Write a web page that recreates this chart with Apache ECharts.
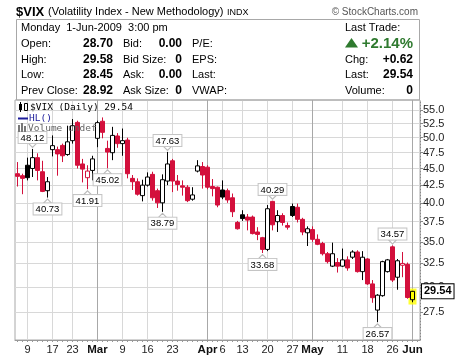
<!DOCTYPE html>
<html><head><meta charset="utf-8">
<script src="https://cdn.jsdelivr.net/npm/echarts@6/dist/echarts.min.js"></script>
<style>html,body{margin:0;padding:0;background:#fff}#c{width:460px;height:357px}</style>
</head><body><div id="c"></div>
<script>
// ---- data ----
const dates = ['2009-02-05','2009-02-06','2009-02-09','2009-02-10','2009-02-11','2009-02-12','2009-02-13','2009-02-17','2009-02-18','2009-02-19','2009-02-20','2009-02-23','2009-02-24','2009-02-25','2009-02-26','2009-02-27',
'2009-03-02','2009-03-03','2009-03-04','2009-03-05','2009-03-06','2009-03-09','2009-03-10','2009-03-11','2009-03-12','2009-03-13','2009-03-16','2009-03-17','2009-03-18','2009-03-19','2009-03-20','2009-03-23','2009-03-24','2009-03-25','2009-03-26','2009-03-27','2009-03-30','2009-03-31',
'2009-04-01','2009-04-02','2009-04-03','2009-04-06','2009-04-07','2009-04-08','2009-04-09','2009-04-13','2009-04-14','2009-04-15','2009-04-16','2009-04-17','2009-04-20','2009-04-21','2009-04-22','2009-04-23','2009-04-24','2009-04-27','2009-04-28','2009-04-29','2009-04-30',
'2009-05-01','2009-05-04','2009-05-05','2009-05-06','2009-05-07','2009-05-08','2009-05-11','2009-05-12','2009-05-13','2009-05-14','2009-05-15','2009-05-18','2009-05-19','2009-05-20','2009-05-21','2009-05-22','2009-05-26','2009-05-27','2009-05-28','2009-05-29',
'2009-06-01'];
const padCategories = ['2009-06-02'];
const opens  = [44.2,43.9,45.5,45.0,46.7,44.5,41.7,48.0,48.0,48.7,47.2,49.5,52.7,45.7,43.6,44.7,
49.9,52.9,48.2,47.5,50.3,49.0,49.6,43.5,43.0,41.0,42.5,44.1,41.7,40.0,43.1,46.2,43.1,42.4,42.2,40.5,44.6,45.3,
45.2,42.3,42.2,41.8,41.7,40.7,37.4,38.4,38.1,38.1,36.2,35.5,34.1,40.2,37.5,38.3,37.0,39.5,39.4,37.8,36.1,
36.5,35.3,34.8,33.6,32.2,32.6,32.2,32.9,33.2,33.8,31.6,33.0,30.3,27.7,29.1,31.6,34.4,31.0,32.3,32.4,
28.70];
const highs  = [46.0,44.2,46.7,48.12,47.4,46.2,43.7,50.4,48.5,49.0,52.1,53.3,53.0,46.5,45.5,47.0,
53.0,53.6,49.5,51.9,50.8,51.6,50.0,44.0,43.5,43.3,44.4,44.5,42.0,44.1,47.63,46.5,44.0,43.2,42.5,42.2,46.3,46.0,
45.5,43.4,42.3,43.2,42.0,41.3,37.6,39.0,38.5,38.3,36.8,35.6,39.7,40.29,39.0,38.6,37.4,39.9,39.9,38.0,36.9,
36.9,35.9,35.0,33.8,34.9,33.1,34.2,33.3,34.0,34.0,33.9,33.1,30.7,29.25,32.8,33.0,34.57,33.0,33.8,32.6,
29.58];
const lows   = [42.3,41.2,43.2,43.7,43.2,41.5,40.73,46.9,43.9,46.0,47.0,49.0,45.0,42.9,41.91,43.2,
48.4,49.9,45.02,46.3,48.3,47.0,43.5,41.8,41.0,40.2,42.3,40.3,39.3,38.79,42.5,41.5,41.7,41.0,40.1,40.3,44.4,42.0,
41.9,40.9,39.4,40.5,40.0,38.1,36.5,37.6,36.4,35.9,35.2,33.68,33.9,36.4,36.2,37.0,36.5,38.1,37.4,35.8,34.5,
35.0,34.6,33.4,32.5,32.1,31.5,32.1,31.7,33.0,31.5,30.7,30.2,28.4,26.57,29.0,31.5,30.5,29.7,31.0,28.8,
28.45];
const closes = [43.8,43.5,43.6,46.7,44.7,41.6,43.0,48.66,47.3,47.0,49.3,52.1,45.5,44.9,44.6,46.5,
52.65,50.93,47.6,50.4,49.0,49.5,44.2,43.0,41.2,42.5,43.7,40.7,40.0,43.3,45.7,43.1,42.6,42.2,40.3,41.1,45.4,44.0,
42.2,42.0,39.7,40.8,40.4,38.8,36.6,37.9,37.7,36.0,35.9,34.1,39.2,37.1,38.3,37.4,36.8,38.3,37.8,36.2,36.6,
35.3,34.7,33.6,32.7,33.6,32.2,32.9,32.0,33.8,31.6,33.2,30.3,28.9,29.15,32.7,32.9,30.7,32.8,32.5,28.92,
29.54];
const tickDates  = ['2009-02-09','2009-02-17','2009-02-23','2009-03-02','2009-03-09','2009-03-16','2009-03-23','2009-04-01','2009-04-06','2009-04-13','2009-04-20','2009-04-27','2009-05-01','2009-05-11','2009-05-18','2009-05-26','2009-06-01'];
const tickLabels = ['9','17','23','Mar','9','16','23','Apr','6','13','20','27','May','11','18','26','Jun'];
const yTicks = [27.5,30,32.5,35,37.5,40,42.5,45,47.5,50,52.5,55];
const peakDates   = ['2009-02-10','2009-03-20','2009-04-21','2009-05-26'];
const peakValues  = [48.12,47.63,40.29,34.57];
const troughDates = ['2009-02-13','2009-02-26','2009-03-04','2009-03-19','2009-04-17','2009-05-20'];
const troughValues= [40.73,41.91,45.02,38.79,33.68,26.57];

// ---- chart ----
const FONT = '"Liberation Sans", Arial, sans-serif';
const MONO = '"DejaVu Sans Mono", monospace';
const RED = '#d3103c';
const last = dates.length - 1;
const categories = dates.concat(padCategories);
const tickMap = {}; tickDates.forEach((d, i) => { tickMap[d] = tickLabels[i]; });
const isTick = (idx, val) => Object.prototype.hasOwnProperty.call(tickMap, val);

const candleData = dates.map((d, i) => {
  const prev = i > 0 ? closes[i - 1] : opens[i];
  const col = closes[i] >= prev ? '#000000' : RED;
  const fill = closes[i] > opens[i] ? (i === last ? '#ffff00' : '#ffffff') : col;
  return { value: [opens[i], closes[i], lows[i], highs[i]],
    itemStyle: { color: fill, color0: fill, borderColor: col, borderColor0: col, borderWidth: 1 } };
});

const annLabel = { show: true, formatter: p => Number(p.value).toFixed(2), color: '#000', fontSize: 9.5, fontFamily: FONT,
  backgroundColor: '#fff', borderColor: '#c4c4c4', borderWidth: 1, padding: [1, 2, 0, 2] };
const markData = [];
peakDates.forEach((d, i) => markData.push({ coord: [d, peakValues[i]], value: peakValues[i],
  symbol: 'path://M0,0L10,0L5,6Z', symbolSize: [8, 4], symbolOffset: [0, -3.5],
  itemStyle: { color: '#fff', borderColor: '#bbb', borderWidth: 1 },
  label: Object.assign({ position: 'top', distance: 0 }, annLabel) }));
troughDates.forEach((d, i) => markData.push({ coord: [d, troughValues[i]], value: troughValues[i],
  symbol: 'path://M0,6L10,6L5,0Z', symbolSize: [8, 4], symbolOffset: [0, 3.5],
  itemStyle: { color: '#fff', borderColor: '#bbb', borderWidth: 1 },
  label: Object.assign({ position: 'bottom', distance: 0 }, annLabel) }));

function txt(x, y, s, o) {
  return { type: 'text', x: x, y: y, z: 100, silent: true,
    style: Object.assign({ text: s, fill: '#000', font: '11px ' + FONT, align: 'left', verticalAlign: 'middle' }, o || {}) };
}
const B = 'bold 12px ' + FONT;
const rows = [28, 44, 59.5, 75, 90.5];
const graphics = [
  { type: 'rect', z: 90, silent: true, shape: { x: 16.5, y: 19.5, width: 403, height: 80.5 }, style: { fill: 'none', stroke: '#a8a8a8', lineWidth: 1 } },
  txt(16, 12, '$VIX', { font: 'bold 13px ' + FONT }),
  txt(48, 12, '(Volatility Index - New Methodology)'),
  txt(227, 12.5, 'INDX', { font: '9px ' + FONT }),
  txt(418, 12, '\u00A9 StockCharts.com', { font: '10px ' + FONT, fill: '#555', align: 'right' }),
  txt(21, rows[0], 'Monday  1-Jun-2009  3:00 pm'),
  txt(21, rows[1], 'Open:'), txt(21, rows[2], 'High:'), txt(21, rows[3], 'Low:'), txt(21, rows[4], 'Prev Close:'),
  txt(113, rows[1], opens[last].toFixed(2), { font: B, align: 'right' }),
  txt(113, rows[2], highs[last].toFixed(2), { font: B, align: 'right' }),
  txt(113, rows[3], lows[last].toFixed(2), { font: B, align: 'right' }),
  txt(113, rows[4], closes[last - 1].toFixed(2), { font: B, align: 'right' }),
  txt(123, rows[1], 'Bid:'), txt(123, rows[2], 'Bid Size:'), txt(123, rows[3], 'Ask:'), txt(123, rows[4], 'Ask Size:'),
  txt(182, rows[1], '0.00', { font: B, align: 'right' }), txt(182, rows[2], '0', { font: B, align: 'right' }),
  txt(182, rows[3], '0.00', { font: B, align: 'right' }), txt(182, rows[4], '0', { font: B, align: 'right' }),
  txt(192, rows[1], 'P/E:'), txt(192, rows[2], 'EPS:'), txt(192, rows[3], 'Last:'), txt(192, rows[4], 'VWAP:'),
  txt(345, rows[0], 'Last Trade:'),
  { type: 'polygon', z: 100, silent: true, shape: { points: [[345, 47.5], [358, 47.5], [351.5, 38]] }, style: { fill: '#2f7a2f' } },
  txt(413, rows[1], '+2.14%', { font: 'bold 15px ' + FONT, fill: '#2f7a2f', align: 'right' }),
  txt(345, rows[2], 'Chg:'), txt(413, rows[2], '+0.62', { font: B, align: 'right' }),
  txt(345, rows[3], 'Last:'), txt(413, rows[3], closes[last].toFixed(2), { font: B, align: 'right' }),
  txt(345, rows[4], 'Volume:'), txt(413, rows[4], '0', { font: B, align: 'right' }),
  // in-plot legend
  { type: 'rect', z: 100, silent: true, shape: { x: 19, y: 104, width: 3, height: 6 }, style: { fill: '#000' } },
  { type: 'rect', z: 100, silent: true, shape: { x: 24.5, y: 103.5, width: 3, height: 7 }, style: { fill: '#fff', stroke: '#000', lineWidth: 1 } },
  { type: 'line', z: 100, silent: true, shape: { x1: 20.5, y1: 102, x2: 20.5, y2: 112 }, style: { stroke: '#000', lineWidth: 1 } },
  txt(30, 107.5, '$VIX (Daily) ' + closes[last].toFixed(2), { font: '9.5px ' + MONO }),
  { type: 'line', z: 100, silent: true, shape: { x1: 18, y1: 118.5, x2: 28, y2: 118.5 }, style: { stroke: '#1a1a9a', lineWidth: 2 } },
  txt(29, 118.5, 'HL()', { font: '9.5px ' + MONO, fill: '#1a1a9a' }),
  { type: 'rect', z: 100, silent: true, shape: { x: 18, y: 125, width: 2, height: 7 }, style: { fill: '#777' } },
  { type: 'rect', z: 100, silent: true, shape: { x: 21, y: 123, width: 2, height: 9 }, style: { fill: '#777' } },
  { type: 'rect', z: 100, silent: true, shape: { x: 24, y: 126, width: 2, height: 6 }, style: { fill: '#777' } },
  txt(28, 128.5, 'Volume undef', { font: '9.5px ' + MONO, fill: '#666' })
];

const chart = echarts.init(document.getElementById('c'), null, { renderer: 'canvas' });
chart.setOption({
  animation: false,
  backgroundColor: '#fff',
  textStyle: { fontFamily: FONT },
  grid: { left: 15, right: 40, top: 100, bottom: 17, show: true, borderColor: '#a8a8a8', borderWidth: 1 },
  xAxis: {
    type: 'category', data: categories, boundaryGap: true,
    axisLine: { show: true, lineStyle: { color: '#999' } },
    axisTick: { show: true, alignWithLabel: true, interval: 0, length: 2, lineStyle: { color: '#999' } },
    axisLabel: { interval: isTick, margin: 4, fontSize: 11, color: '#222',
      formatter: v => { const s = tickMap[v]; if (s === undefined) return ''; return /^\d+$/.test(s) ? s : '{m|' + s + '}'; },
      rich: { m: { fontWeight: 'bold', fontSize: 11.5, color: '#111' } } },
    splitLine: { show: true, interval: isTick, alignWithLabel: true,
      lineStyle: { color: tickLabels.map(s => /^\d+$/.test(s) ? '#d8d8d8' : '#a8a8a8'), width: 1 } }
  },
  yAxis: {
    type: 'log', logBase: 10, min: 25, max: 56.9, position: 'right',
    axisLine: { show: true, lineStyle: { color: '#888', type: [1, 2] } },
    axisTick: { show: true, customValues: yTicks, length: 3, lineStyle: { color: '#888' } },
    axisLabel: { customValues: yTicks, formatter: v => Number(v).toFixed(1), fontSize: 11, color: '#222', margin: 3 },
    splitLine: { show: true, lineStyle: { color: '#d8d8d8' } },
    minorTick: { show: false }, minorSplitLine: { show: false }
  },
  series: [
    { type: 'scatter', z: 1, silent: true, symbol: 'rect', symbolSize: [8, 16],
      itemStyle: { color: '#ffff00' },
      data: [[dates[last], (lows[last] + highs[last]) / 2]] },
    { type: 'candlestick', z: 2, barWidth: 4, silent: true, data: candleData,
      markPoint: { silent: true, data: markData },
      markLine: { silent: true, symbol: ['none', 'none'], z: 10,
        lineStyle: { color: 'rgba(0,0,0,0)', width: 1, type: 'solid' },
        data: [{ yAxis: closes[last] }],
        label: { show: true, position: 'end', distance: 2, formatter: closes[last].toFixed(2), color: '#000', fontWeight: 'bold', fontSize: 11,
          backgroundColor: '#fff', borderColor: '#000', borderWidth: 1, padding: [2, 2, 1, 2] } } }
  ],
  graphic: graphics
});
</script></body></html>
